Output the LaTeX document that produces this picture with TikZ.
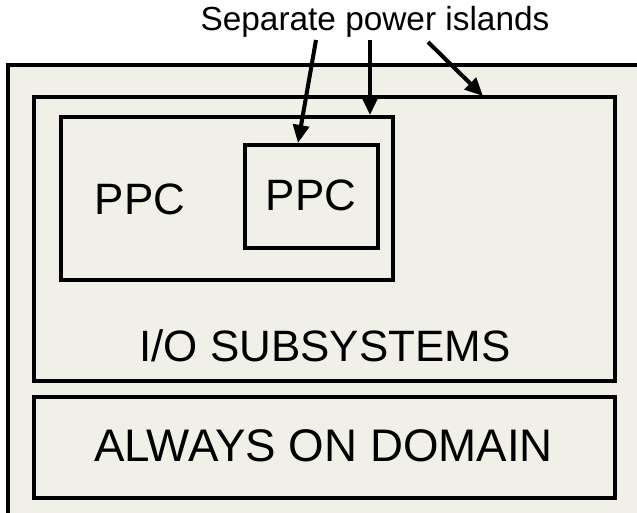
\documentclass[tikz,border=0pt]{standalone}
\usepackage{fontspec}
\setmainfont{Liberation Sans}
\usetikzlibrary{arrows.meta}

\definecolor{boxfill}{RGB}{240,240,232}

\tikzset{
	box/.style={draw, line width=2.3pt, fill=boxfill, inner sep=0pt},
	big/.style={font=\fontsize{25pt}{30pt}\selectfont},
	pointer/.style={-{Triangle[length=0.36cm,width=0.32cm]}, line width=2.3pt}
}

\begin{document}
\begin{tikzpicture}[x=0.02cm,y=-0.02cm]
	\useasboundingbox (0,0) rectangle (637,512);
	% outer chip, runs off the page
	\draw[box] (8,65) rectangle (680,560);

	\node[box, minimum width=11.62cm, minimum height=5.68cm] (io) at (324.5,239) {};
	\node[box, minimum width=11.62cm, minimum height=2.02cm] (aon) at (324.5,447.5) {};
	\node[box, minimum width=6.64cm, minimum height=3.26cm] (ppc1) at (227,198.5) {};
	\node[box, minimum width=2.66cm, minimum height=2.06cm] (ppc2) at (311.5,196.5) {};

	\node[big] (l1) at (140,199) {PPC};
	\node[big] (l2) at (311,195) {PPC};
	\node[big] (lio) at (325,346) {I/O SUBSYSTEMS};
	\node[font=\fontsize{26pt}{31pt}\selectfont] (laon) at (323.5,446) {ALWAYS ON DOMAIN};
	\node[font=\fontsize{19pt}{23pt}\selectfont] (sep) at (375,22) {Separate power islands};

	\coordinate (a1) at (316,40);
	\coordinate (a2) at (370,40);
	\coordinate (a3) at (428,42);
	\coordinate (outer) at (483,96);
	\draw [pointer] (a1) -- (ppc2.north -| 298,0);
	\draw [pointer] (a2) -- (ppc1.north -| 370,0);
	\draw [pointer] (a3) -- (outer);
\end{tikzpicture}
\end{document}
